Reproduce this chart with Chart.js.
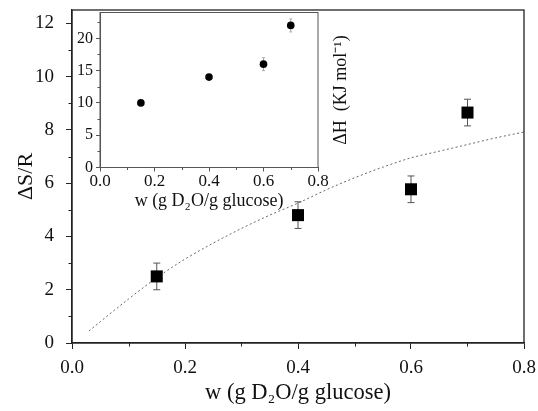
<!DOCTYPE html>
<html lang="en">
<head>
  <meta charset="UTF-8" />
  <title>Delta S/R vs water content</title>
  <script src="https://cdn.jsdelivr.net/npm/chart.js"></script>
  <style>
    body {
      margin: 0;
      background: #fff;
    }
    .wrap {
      position: relative;
      width: 538px;
      height: 411px;
    }
    .wrap canvas {
      position: absolute;
      left: 0;
      top: 0;
    }
  </style>
</head>
<body>
  <div class="wrap">
    <canvas id="mainChart" width="538" height="411"></canvas>
    <canvas id="insetChart" width="538" height="411"></canvas>
  </div>

  <script>
    // main panel: entropy
    const wValues = [0.15, 0.4, 0.6, 0.7];
    const dsR = [2.5, 4.8, 5.77, 8.65];
    const dsRErr = [0.5, 0.5, 0.5, 0.5];

    // dotted fit curve
    const fitW = [0.03, 0.05, 0.1, 0.15, 0.2, 0.25, 0.3, 0.35, 0.4, 0.45, 0.5, 0.55, 0.6, 0.65, 0.7, 0.75, 0.8];
    const fitY = [0.45, 0.8, 1.65, 2.45, 3.15, 3.75, 4.3, 4.8, 5.25, 5.75, 6.2, 6.6, 6.95, 7.2, 7.45, 7.7, 7.92];

    // inset: enthalpy
    const insetW = [0.15, 0.4, 0.6, 0.7];
    const dH = [10, 14, 16, 22];
    const dHErr = [0.3, 0.3, 1.0, 1.0];

    const mainXMinor = [0.1, 0.3, 0.5, 0.7];
    const mainYMinor = [1, 3, 5, 7, 9, 11];
    const insetXMinor = [0.1, 0.3, 0.5, 0.7];
    const insetYMinor = [2.5, 7.5, 12.5, 17.5, 22.5];

    const xTitle = 'w (g D\u2082O/g glucose)';
    const serif = "'Liberation Serif', 'Times New Roman', serif";

    const toPts = (xs, ys) => xs.map((x, i) => ({ x: x, y: ys[i] }));

    const errorBars = {
      id: 'errorBars',
      beforeDatasetsDraw(chart, args, opts) {
        const ctx = chart.ctx;
        const xs = chart.scales.x, ys = chart.scales.y;
        ctx.save();
        ctx.strokeStyle = opts.color;
        ctx.lineWidth = 1;
        ctx.beginPath();
        opts.x.forEach((v, i) => {
          const px = xs.getPixelForValue(v);
          const top = ys.getPixelForValue(opts.y[i] + opts.err[i]);
          const bot = ys.getPixelForValue(opts.y[i] - opts.err[i]);
          ctx.moveTo(px, top); ctx.lineTo(px, bot);
          ctx.moveTo(px - opts.cap, top); ctx.lineTo(px + opts.cap, top);
          ctx.moveTo(px - opts.cap, bot); ctx.lineTo(px + opts.cap, bot);
        });
        ctx.stroke();
        ctx.restore();
      }
    };

    const frame = {
      id: 'frame',
      afterDraw(chart, args, opts) {
        const ctx = chart.ctx;
        const a = chart.chartArea;
        ctx.save();
        ctx.strokeStyle = opts.color;
        ctx.lineWidth = opts.width;
        ctx.strokeRect(a.left, a.top, a.right - a.left, a.bottom - a.top);
        ctx.lineWidth = 1;
        ctx.beginPath();
        opts.xMinor.forEach(v => {
          const p = Math.round(chart.scales.x.getPixelForValue(v)) + 0.5;
          ctx.moveTo(p, a.bottom); ctx.lineTo(p, a.bottom + opts.minorLen);
        });
        opts.yMinor.forEach(v => {
          const p = Math.round(chart.scales.y.getPixelForValue(v)) + 0.5;
          ctx.moveTo(a.left, p); ctx.lineTo(a.left - opts.minorLen, p);
        });
        ctx.stroke();
        if (opts.sideTitle) {
          ctx.fillStyle = '#111';
          ctx.font = opts.sideFont;
          ctx.textAlign = 'center';
          ctx.textBaseline = 'middle';
          ctx.translate(a.right + opts.sideOffset, (a.top + a.bottom) / 2);
          ctx.rotate(-Math.PI / 2);
          ctx.fillText(opts.sideTitle, 0, 0);
        }
        ctx.restore();
      }
    };

    function fixBox(w, h) {
      return function (scale) {
        if (w !== null) scale.width = w;
        if (h !== null) scale.height = h;
        scale.paddingTop = 0;
        scale.paddingBottom = 0;
        scale.paddingLeft = 0;
        scale.paddingRight = 0;
      };
    }

    function keepSteps(step) {
      return function (scale) {
        scale.ticks = scale.ticks.filter(t => Math.abs(t.value / step - Math.round(t.value / step)) < 1e-6);
      };
    }

    new Chart(document.getElementById('mainChart'), {
      type: 'scatter',
      data: {
        datasets: [
          {
            data: toPts(wValues, dsR),
            pointStyle: 'rect',
            pointRadius: 8.5,
            pointHoverRadius: 8.5,
            backgroundColor: '#000',
            borderColor: '#000',
            borderWidth: 0
          },
          {
            data: toPts(fitW, fitY),
            showLine: true,
            pointRadius: 0,
            borderColor: '#666',
            borderWidth: 1,
            borderDash: [2, 2.5],
            cubicInterpolationMode: 'monotone'
          }
        ]
      },
      options: {
        responsive: false,
        animation: false,
        devicePixelRatio: 1,
        layout: { padding: { top: 10, right: 14, left: 0, bottom: 0 } },
        plugins: {
          legend: { display: false },
          tooltip: { enabled: false },
          errorBars: { x: wValues, y: dsR, err: dsRErr, color: '#555', cap: 3.5 },
          frame: { color: '#222', width: 1.3, minorLen: 3.5, xMinor: mainXMinor, yMinor: mainYMinor }
        },
        scales: {
          x: {
            type: 'linear',
            min: 0,
            max: 0.8,
            afterFit: fixBox(null, 68),
            afterBuildTicks: keepSteps(0.2),
            border: { display: true, color: '#222', width: 1.3 },
            grid: { drawOnChartArea: false, drawTicks: true, tickLength: 6, color: '#222' },
            ticks: {
              stepSize: 0.2,
              includeBounds: false,
              padding: 8,
              color: '#111',
              font: { family: serif, size: 19 },
              callback: v => v.toFixed(1)
            },
            title: {
              display: true,
              text: xTitle,
              color: '#111',
              font: { family: serif, size: 22.5 },
              padding: { top: 0, bottom: 4 }
            }
          },
          y: {
            min: 0,
            max: 12.5,
            afterFit: fixBox(72, null),
            afterBuildTicks: keepSteps(2),
            border: { display: true, color: '#222', width: 1.3 },
            grid: { drawOnChartArea: false, drawTicks: true, tickLength: 6, color: '#222' },
            ticks: {
              stepSize: 2,
              includeBounds: false,
              padding: 12,
              color: '#111',
              font: { family: serif, size: 19 }
            },
            title: {
              display: true,
              text: '\u0394S/R',
              color: '#111',
              font: { family: serif, size: 22 },
              padding: { top: 13, bottom: 0 }
            }
          }
        }
      },
      plugins: [errorBars, frame]
    });

    new Chart(document.getElementById('insetChart'), {
      type: 'scatter',
      data: {
        datasets: [
          {
            data: toPts(insetW, dH),
            pointStyle: 'circle',
            pointRadius: 3.8,
            pointHoverRadius: 3.8,
            backgroundColor: '#000',
            borderColor: '#000',
            borderWidth: 0
          }
        ]
      },
      options: {
        responsive: false,
        animation: false,
        devicePixelRatio: 1,
        layout: { padding: { top: 12.5, right: 220, left: 0, bottom: 195.5 } },
        plugins: {
          legend: { display: false },
          tooltip: { enabled: false },
          errorBars: { x: insetW, y: dH, err: dHErr, color: '#aaa', cap: 1.5 },
          frame: {
            color: '#555', width: 1, minorLen: 2.5, xMinor: insetXMinor, yMinor: insetYMinor,
            sideTitle: '\u0394H  (KJ mol\u207B\u00B9)',
            sideFont: '18px ' + serif,
            sideOffset: 23
          }
        },
        scales: {
          x: {
            type: 'linear',
            min: 0,
            max: 0.8,
            afterFit: fixBox(null, 48),
            afterBuildTicks: keepSteps(0.2),
            border: { display: true, color: '#555', width: 1 },
            grid: { drawOnChartArea: false, drawTicks: true, tickLength: 4, color: '#555' },
            ticks: {
              stepSize: 0.2,
              includeBounds: false,
              padding: 0,
              color: '#111',
              font: { family: serif, size: 17 },
              callback: v => v.toFixed(1)
            },
            title: {
              display: true,
              text: xTitle,
              color: '#111',
              font: { family: serif, size: 18 },
              padding: { top: 0, bottom: 3 }
            }
          },
          y: {
            min: 0,
            max: 24,
            afterFit: fixBox(100, null),
            afterBuildTicks: keepSteps(5),
            border: { display: true, color: '#555', width: 1 },
            grid: { drawOnChartArea: false, drawTicks: true, tickLength: 4, color: '#555' },
            ticks: {
              stepSize: 5,
              includeBounds: false,
              padding: 3,
              color: '#111',
              font: { family: serif, size: 16 }
            }
          }
        }
      },
      plugins: [errorBars, frame]
    });
  </script>
</body>
</html>
